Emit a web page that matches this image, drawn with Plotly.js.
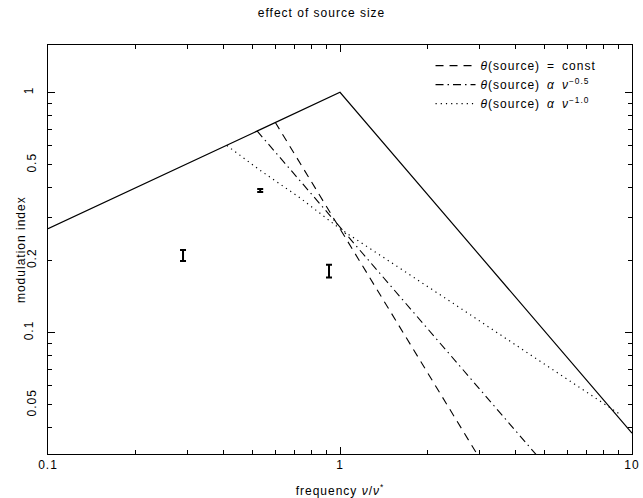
<!DOCTYPE html>
<html>
<head>
<meta charset="utf-8">
<script src="https://cdn.plot.ly/plotly-3.0.1.min.js"></script>
<style>
html,body{margin:0;padding:0;background:#fff}
svg text{letter-spacing:1px}
</style>
</head>
<body>
<div id="chart" style="width:643px;height:498px"></div>
<script>
// Point-source modulation index: rising below nu*, falling above it
const pointFreq = [0.1, 1, 10];
const pointMod = [0.27, 1, 0.038];

// Extended source, constant angular size
const constFreq = [0.6, 3.0];
const constMod = [0.75, 0.03];

// Extended source, size scaling as nu^-0.5
const halfFreq = [0.52, 4.8];
const halfMod = [0.69, 0.03];

// Extended source, size scaling as nu^-1.0 (joins the point-source curve near nu = 9)
const oneFreq = [0.41, 0.53, 0.73, 1, 2.44, 5.36, 9.1];
const oneMod = [0.6, 0.475, 0.363, 0.27, 0.132, 0.0697, 0.0455];

// Measured modulation indices with uncertainties
const obsFreq = [0.29, 0.533, 0.917];
const obsMod = [0.209, 0.39, 0.18];
const obsErrUp = [0.011, 0.005, 0.011];
const obsErrDown = [0.011, 0.006, 0.011];

const SP = '\u2002';
const legendNames = [
  '<i>θ</i>(source)' + SP + '=' + SP + 'const',
  '<i>θ</i>(source)' + SP + '<i>α</i>' + SP + '<i>ν</i><sup>−0.5</sup>',
  '<i>θ</i>(source)' + SP + '<i>α</i>' + SP + '<i>ν</i><sup>−1.0</sup>'
];

const xMajor = [0.1, 1, 10];
const xMajorText = ['0.1', '1', '10'];
const yDecades = [0.1, 1];
const yDecadeText = ['0.1', '1'];
const yMid = [0.05, 0.2, 0.5];
const yMidText = ['0.05', '0.2', '0.5'];

const X_RANGE = [-1, 1];
const Y_RANGE = [-1.507, 0.197];

const FONT = 'Liberation Sans, Arial, Helvetica, sans-serif';
const INK = '#000';

// 2..9 multiples inside each decade, used for the short ticks
function minorVals(lo, hi, skip) {
  const out = [];
  for (let d = lo; d < hi; d *= 10) {
    for (let k = 2; k <= 9; k++) {
      const v = +(k * d).toPrecision(3);
      if (!skip.includes(v)) out.push(v);
    }
  }
  return out;
}
const xMinor = minorVals(0.1, 10, []);
const yMinorAll = minorVals(0.01, 1, []).filter(v => v > 0.03);
const yMinorLeft = yMinorAll.filter(v => !yMid.includes(v));

const traces = [
  {x: pointFreq, y: pointMod, mode: 'lines', showlegend: false,
   line: {color: INK, width: 1.2}},
  {x: constFreq, y: constMod, mode: 'lines', name: legendNames[0],
   line: {color: INK, width: 1.1, dash: '8px,6px'}},
  {x: halfFreq, y: halfMod, mode: 'lines', name: legendNames[1],
   line: {color: INK, width: 1.1, dash: '8px,4px,1.5px,4px'}},
  {x: oneFreq, y: oneMod, mode: 'lines', name: legendNames[2],
   line: {color: INK, width: 1.2, dash: '1.2px,4px'}},
  {x: obsFreq, y: obsMod, mode: 'markers', showlegend: false,
   marker: {size: 1, color: 'rgba(0,0,0,0)'},
   error_y: {type: 'data', symmetric: false, array: obsErrUp, arrayminus: obsErrDown,
             color: INK, thickness: 2, width: 3}},
  // invisible anchors so the overlay axes (labels and mirrored ticks) get drawn
  {x: [1], y: [1], yaxis: 'y2', mode: 'markers', showlegend: false, hoverinfo: 'skip',
   marker: {size: 1, color: 'rgba(0,0,0,0)'}},
  {x: [1], y: [1], xaxis: 'x2', mode: 'markers', showlegend: false, hoverinfo: 'skip',
   marker: {size: 1, color: 'rgba(0,0,0,0)'}},
  {x: [1], y: [1], yaxis: 'y3', mode: 'markers', showlegend: false, hoverinfo: 'skip',
   marker: {size: 1, color: 'rgba(0,0,0,0)'}}
];

const base = {
  type: 'log', showgrid: false, zeroline: false,
  ticks: 'inside', tickcolor: INK, tickwidth: 1,
  tickfont: {family: FONT, size: 12, color: INK}
};
const minorStyle = {tickmode: 'array', ticks: 'inside', ticklen: 4, tickcolor: INK, tickwidth: 1};

const layout = {
  width: 643, height: 498,
  margin: {l: 48, r: 11, t: 45, b: 44},
  paper_bgcolor: '#fff', plot_bgcolor: '#fff',
  font: {family: FONT, size: 12, color: INK},
  title: {text: 'effect of source size', x: 0.5, xref: 'container', y: 0.974, yref: 'container',
          yanchor: 'middle', font: {family: FONT, size: 12, color: INK}},
  xaxis: Object.assign({}, base, {
    range: X_RANGE, showline: true, linecolor: INK, linewidth: 1, mirror: true,
    tickmode: 'array', tickvals: xMajor, ticktext: xMajorText, ticklen: 7,
    minor: Object.assign({tickvals: xMinor}, minorStyle),
    title: {text: 'frequency <i>ν</i>/<i>ν</i><sup>*</sup>', standoff: 16,
            font: {family: FONT, size: 12, color: INK}}
  }),
  // top edge: mirrored ticks only
  xaxis2: Object.assign({}, base, {
    overlaying: 'x', side: 'top', range: X_RANGE, showline: false, showticklabels: false,
    tickmode: 'array', tickvals: xMajor, ticklen: 7,
    minor: Object.assign({tickvals: xMinor}, minorStyle)
  }),
  yaxis: Object.assign({}, base, {
    range: Y_RANGE, showline: true, linecolor: INK, linewidth: 1, mirror: true,
    tickmode: 'array', tickvals: yDecades, ticktext: yDecadeText,
    ticklen: 7, tickangle: -90, ticklabelstandoff: 9,
    minor: Object.assign({tickvals: yMinorLeft}, minorStyle)
  }),
  // labelled mid-decade values 0.05, 0.2, 0.5
  yaxis2: Object.assign({}, base, {
    overlaying: 'y', side: 'left', showline: false,
    range: Y_RANGE, tickmode: 'array', tickvals: yMid, ticktext: yMidText,
    ticklen: 4, tickangle: -90, ticklabelstandoff: 9
  }),
  // right edge: mirrored ticks only
  yaxis3: Object.assign({}, base, {
    overlaying: 'y', side: 'right', showline: false, showticklabels: false,
    range: Y_RANGE, tickmode: 'array', tickvals: yDecades, ticklen: 7,
    minor: Object.assign({tickvals: yMinorAll}, minorStyle)
  }),
  // y-axis title placed beside the rotated tick labels
  annotations: [{
    text: 'modulation index', textangle: -90, showarrow: false,
    xref: 'paper', yref: 'paper', x: -0.047, y: 0.5, xanchor: 'center', yanchor: 'middle',
    font: {family: FONT, size: 12, color: INK}
  }],
  legend: {x: 0.655, y: 0.985, xanchor: 'left', yanchor: 'top',
           bgcolor: 'rgba(0,0,0,0)', borderwidth: 0, itemwidth: 40,
           tracegroupgap: 0, font: {family: FONT, size: 12, color: INK}},
  showlegend: true
};

Plotly.newPlot('chart', traces, layout, {displayModeBar: false, staticPlot: true});
</script>
</body>
</html>
